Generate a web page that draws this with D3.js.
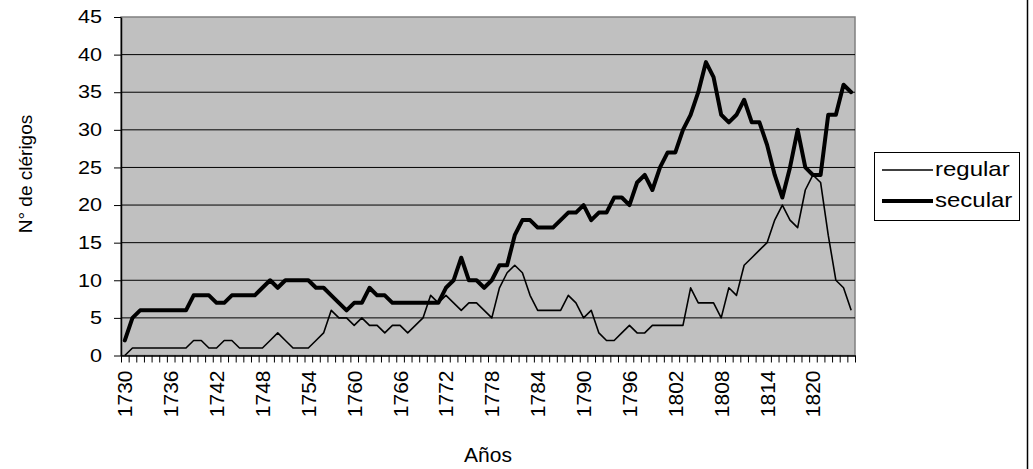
<!DOCTYPE html>
<html>
<head>
<meta charset="utf-8">
<script src="https://cdn.jsdelivr.net/npm/d3@7"></script>
<style>
  body { margin: 0; background: #fff; }
  svg { display: block; font-family: "Liberation Sans", Arial, sans-serif; }
</style>
</head>
<body>
<div id="chart"></div>
<script>
// years 1730..1825
const years = d3.range(1730, 1826);
const labelYears = [1730, 1736, 1742, 1748, 1754, 1760, 1766, 1772, 1778, 1784, 1790, 1796, 1802, 1808, 1814, 1820];
const yTicks = [0, 5, 10, 15, 20, 25, 30, 35, 40, 45];

const regular = [0, 1, 1, 1, 1, 1, 1, 1, 1, 2, 2, 1, 1, 2, 2, 1, 1, 1, 1, 2,
  3, 2, 1, 1, 1, 2, 3, 6, 5, 5, 4, 5, 4, 4, 3, 4, 4, 3, 4, 5,
  8, 7, 8, 7, 6, 7, 7, 6, 5, 9, 11, 12, 11, 8, 6, 6, 6, 6, 8, 7,
  5, 6, 3, 2, 2, 3, 4, 3, 3, 4, 4, 4, 4, 4, 9, 7, 7, 7, 5, 9,
  8, 12, 13, 14, 15, 18, 20, 18, 17, 22, 24, 23, 16, 10, 9, 6];

const secular = [2, 5, 6, 6, 6, 6, 6, 6, 6, 8, 8, 8, 7, 7, 8, 8, 8, 8, 9, 10,
  9, 10, 10, 10, 10, 9, 9, 8, 7, 6, 7, 7, 9, 8, 8, 7, 7, 7, 7, 7,
  7, 7, 9, 10, 13, 10, 10, 9, 10, 12, 12, 16, 18, 18, 17, 17, 17, 18, 19, 19,
  20, 18, 19, 19, 21, 21, 20, 23, 24, 22, 25, 27, 27, 30, 32, 35, 39, 37, 32, 31,
  32, 34, 31, 31, 28, 24, 21, 25, 30, 25, 24, 24, 32, 32, 36, 35];

const W = 1033, H = 469;
const plotL = 121, plotR = 855, plotT = 17, plotB = 355.5;

const svg = d3.select("#chart").append("svg")
    .attr("width", W)
    .attr("height", H);

const x = d3.scaleLinear()
    .domain([years[0] - 0.5, years[years.length - 1] + 0.5])
    .range([plotL, plotR]);

const y = d3.scaleLinear()
    .domain([0, 45])
    .range([plotB, plotT]);

// plot background
svg.append("rect")
    .attr("x", plotL).attr("y", plotT)
    .attr("width", plotR - plotL).attr("height", plotB - plotT)
    .attr("fill", "#c0c0c0")
    .attr("stroke", "#808080")
    .attr("stroke-width", 1.5);

// gridlines
svg.append("g")
    .selectAll("line")
    .data(yTicks.filter(d => d > 0 && d < 45))
    .join("line")
    .attr("x1", plotL).attr("x2", plotR)
    .attr("y1", d => y(d)).attr("y2", d => y(d))
    .attr("stroke", "#000")
    .attr("stroke-width", 1);

// y axis
const yAxis = svg.append("g")
    .attr("transform", `translate(${plotL},0)`)
    .call(d3.axisLeft(y).tickValues(yTicks).tickSize(7).tickSizeOuter(0));
yAxis.select(".domain").attr("stroke", "#000").attr("stroke-width", 1.5);
yAxis.selectAll("text")
    .attr("x", -19 / 1.2)
    .attr("transform", "scale(1.2,1)")
    .attr("font-size", 18)
    .attr("font-family", "Liberation Sans, Arial, sans-serif")
    .attr("fill", "#000");

// x axis ticks between categories
const xTicks = years.map(d => d - 0.5).concat([years[years.length - 1] + 0.5]);
const xAxis = svg.append("g")
    .attr("transform", `translate(0,${plotB})`)
    .call(d3.axisBottom(x).tickValues(xTicks).tickSize(7).tickSizeOuter(0).tickFormat(""));
xAxis.select(".domain").attr("stroke", "#000").attr("stroke-width", 1.5);

// x labels every 6 years
const xLab = svg.append("g")
    .attr("transform", `translate(0,${plotB})`)
    .call(d3.axisBottom(x).tickValues(labelYears).tickSize(0).tickFormat(d3.format("d")));
xLab.select(".domain").remove();
xLab.selectAll("text")
    .attr("font-size", 21)
    .attr("font-family", "Liberation Sans, Arial, sans-serif")
    .attr("fill", "#000")
    .attr("text-anchor", "end")
    .attr("transform", "rotate(-90)")
    .attr("x", -15)
    .attr("y", 0)
    .attr("dy", "0.33em");

// lines
const line = d3.line()
    .x((d, i) => x(years[i]))
    .y(d => y(d));

svg.append("path")
    .datum(regular)
    .attr("fill", "none")
    .attr("stroke", "#000")
    .attr("stroke-width", 1.6)
    .attr("stroke-linejoin", "round")
    .attr("d", line);

svg.append("path")
    .datum(secular)
    .attr("fill", "none")
    .attr("stroke", "#000")
    .attr("stroke-width", 4)
    .attr("stroke-linejoin", "round")
    .attr("stroke-linecap", "round")
    .attr("d", line);

// axis titles
svg.append("text")
    .attr("transform", "translate(32,174) rotate(-90)")
    .attr("text-anchor", "middle")
    .attr("font-size", 19)
    .text("N° de clérigos");

svg.append("text")
    .attr("x", 488)
    .attr("y", 462)
    .attr("text-anchor", "middle")
    .attr("font-size", 21)
    .text("Años");

// legend
const legend = svg.append("g");
legend.append("rect")
    .attr("x", 874.5).attr("y", 152.5)
    .attr("width", 145).attr("height", 68)
    .attr("fill", "#fff")
    .attr("stroke", "#000")
    .attr("stroke-width", 1);

const series = [
  { name: "regular", w: 1.6, ly: 170 },
  { name: "secular", w: 4, ly: 201 }
];
series.forEach(s => {
  legend.append("line")
      .attr("x1", 882).attr("x2", 933)
      .attr("y1", s.ly).attr("y2", s.ly)
      .attr("stroke", "#000")
      .attr("stroke-width", s.w);
  legend.append("text")
      .attr("transform", `translate(935,${s.ly + 6}) scale(1.2,1)`)
      .attr("font-size", 20)
      .text(s.name);
});

// chart area right border
svg.append("line")
    .attr("x1", 1027.5).attr("x2", 1027.5)
    .attr("y1", 0).attr("y2", H)
    .attr("stroke", "#000")
    .attr("stroke-width", 1.5);
</script>
</body>
</html>
